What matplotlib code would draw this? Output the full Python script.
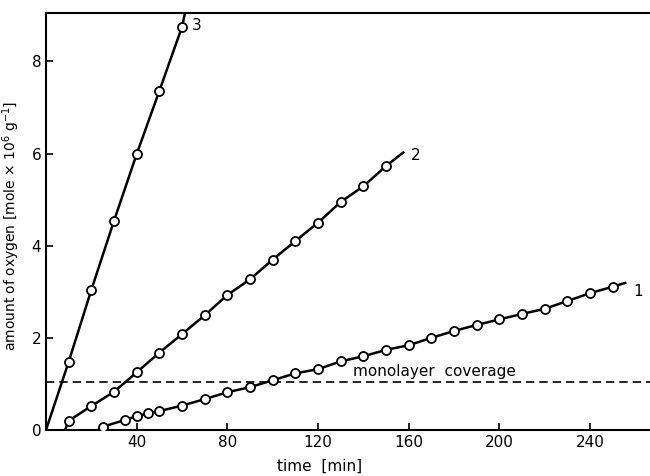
import matplotlib.pyplot as plt

# curve 1
t1 = [25, 35, 40, 45, 50, 60, 70, 80, 90, 100, 110, 120, 130, 140, 150, 160,
      170, 180, 190, 200, 210, 220, 230, 240, 250]
o1 = [0.07, 0.22, 0.30, 0.36, 0.41, 0.53, 0.67, 0.82, 0.93, 1.08, 1.23, 1.32,
      1.49, 1.60, 1.74, 1.84, 2.00, 2.15, 2.28, 2.40, 2.52, 2.63, 2.80, 2.97, 3.11]
# curve 2
t2 = [10, 20, 30, 40, 50, 60, 70, 80, 90, 100, 110, 120, 130, 140, 150]
o2 = [0.20, 0.52, 0.83, 1.25, 1.68, 2.08, 2.49, 2.93, 3.27, 3.70, 4.10, 4.50,
      4.95, 5.29, 5.73]
# curve 3
t3 = [10, 20, 30, 40, 50, 60]
o3 = [1.48, 3.04, 4.54, 5.99, 7.36, 8.75]

# fitted line ends (start, end)
line1_t = [23, 256]
line1_o = [0.0, 3.2]
line2_t = [8.4, 158]
line2_o = [0.0, 6.04]
line3_t = [0, 61.3]
line3_o = [0.0, 9.05]

monolayer = 1.04

fig = plt.figure(figsize=(6.5, 4.76), dpi=100)
ax = fig.add_axes([46/650, 46/476, 604/650, 417/476])

lw = 1.8
for t, o, lt, lo in [(t1, o1, line1_t, line1_o), (t2, o2, line2_t, line2_o),
                     (t3, o3, line3_t, line3_o)]:
    xs = [lt[0]] + t + [lt[1]]
    ys = [lo[0]] + o + [lo[1]]
    ax.plot(xs, ys, color='black', lw=lw, solid_capstyle='butt', zorder=2)
    ax.plot(t, o, 'o', ms=6.5, mfc='white', mec='black', mew=1.3, zorder=3)

ax.axhline(monolayer, color='black', lw=1.2, ls=(0, (5, 3)), zorder=1)
ax.text(135.5, 1.26, 'monolayer  coverage', fontsize=11, va='center', ha='left')

ax.text(259, 3.0, '1', fontsize=11, va='center')
ax.text(161, 5.95, '2', fontsize=11, va='center')
ax.text(64.5, 8.78, '3', fontsize=11, va='center')

ax.set_xlim(0, 266.4)
ax.set_ylim(0, 9.05)
ax.set_xticks([40, 80, 120, 160, 200, 240])
ax.set_yticks([0, 2, 4, 6, 8])
ax.tick_params(direction='in', length=5, width=1.2, labelsize=11)
ax.spines['right'].set_visible(False)
for s in ['left', 'bottom', 'top']:
    ax.spines[s].set_linewidth(1.5)

ax.set_xlabel('time  [min]', fontsize=11)
ax.xaxis.set_label_coords((320 - 46) / 604, -0.07)
ax.set_ylabel(r'amount of oxygen [mole $\times$ 10$^{6}$ g$^{-1}$]', fontsize=10)
ax.yaxis.set_label_coords(-0.04, 0.49)

fig.savefig('out.png', dpi=100)
